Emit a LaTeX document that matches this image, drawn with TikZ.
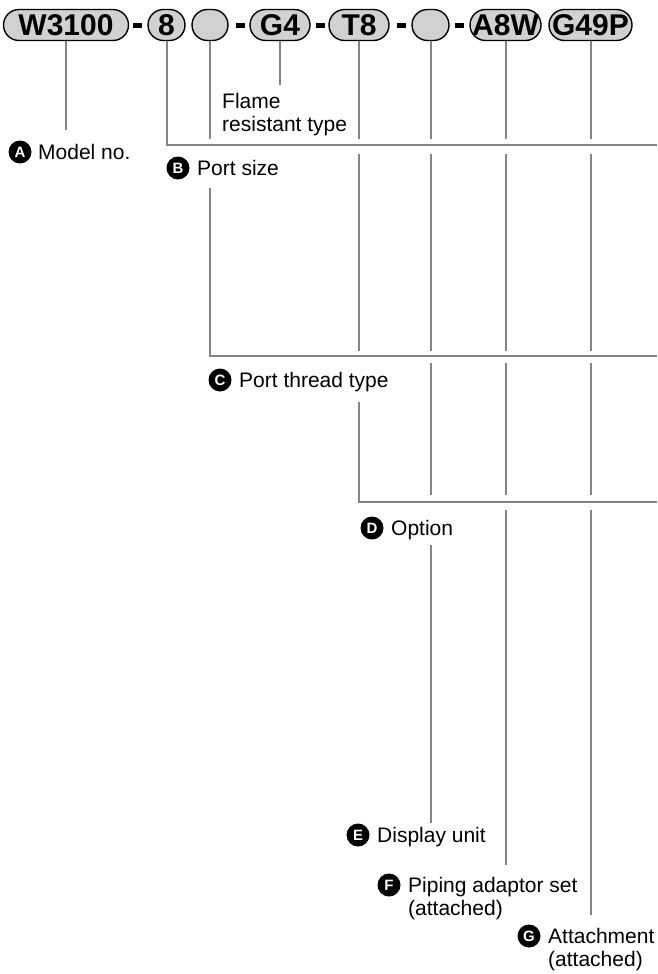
\documentclass[tikz,border=0pt]{standalone}
\usepackage{fontspec}
\setmainfont{Liberation Sans}
\definecolor{pillgray}{gray}{0.82}
\definecolor{linegray}{gray}{0.52}
\begin{document}
\begin{tikzpicture}[x=1pt,y=-1pt,
 pill/.style={draw=black, line width=1.4pt, fill=pillgray, rounded corners=15.5pt, minimum height=31pt, inner sep=0pt, font=\fontsize{30}{30}\selectfont\bfseries, text=black},
 dashbar/.style={fill=black, minimum width=9pt, minimum height=5.5pt, inner sep=0pt},
 conn/.style={draw=linegray, line width=2pt},
 icon/.style={circle, fill=black, text=white, minimum size=23pt, inner sep=0pt, font=\fontsize{15}{15}\selectfont\bfseries},
 lbl/.style={inner sep=0pt, font=\fontsize{21}{23.5}\selectfont, align=left, anchor=north west}]
\useasboundingbox (0,0) rectangle (657,974);
% pills
\node[pill, minimum width=125pt] (pW) at (66,25) {W3100};
\node[dashbar] (d1) at (137.5,25.5) {};
\node[pill, minimum width=37pt] (p8) at (166.5,25) {8};
\node[pill, minimum width=36pt] (pb1) at (210,25) {};
\node[dashbar] (d2) at (240,25.5) {};
\node[pill, minimum width=60pt] (pG4) at (280,25) {G4};
\node[dashbar] (d3) at (320,25.5) {};
\node[pill, minimum width=60pt] (pT8) at (359,25) {T8};
\node[dashbar] (d4) at (401,25.5) {};
\node[pill, minimum width=37pt] (pb2) at (430.5,25) {};
\node[dashbar] (d5) at (459.5,25.5) {};
\node[pill, minimum width=71pt] (pA8W) at (505.5,25) {A8W};
\node[pill, minimum width=83pt] (pG49P) at (590.5,25) {G49P};
% levels
\coordinate (endA) at (0,130);
\coordinate (endG4) at (0,85);
\coordinate (lvBa) at (0,139);
\coordinate (lvBb) at (0,154);
\coordinate (resB1) at (0,188);
\coordinate (lvCa) at (0,351);
\coordinate (lvCb) at (0,363);
\coordinate (resT8) at (0,402);
\coordinate (lvDa) at (0,495);
\coordinate (lvDb) at (0,510);
\coordinate (resE) at (0,545);
\coordinate (endE) at (0,823);
\coordinate (endF) at (0,865);
\coordinate (endG) at (0,915);
\coordinate (rB) at (657,145);
\coordinate (rC) at (657,356);
\coordinate (rD) at (657,502);
% connectors
\draw[conn] (pW.south) -- (pW.south |- endA);
\draw[conn] (p8.south) |- (rB);
\draw[conn] (pb1.south) -- (pb1.south |- lvBa);
\draw[conn] (pb1.south |- resB1) |- (rC);
\draw[conn] (pG4.south) -- (pG4.south |- endG4);
\draw[conn] (pT8.south) -- (pT8.south |- lvBa);
\draw[conn] (pT8.south |- lvBb) -- (pT8.south |- lvCa);
\draw[conn] (pT8.south |- resT8) |- (rD);
\draw[conn] (pb2.south) -- (pb2.south |- lvBa);
\draw[conn] (pb2.south |- lvBb) -- (pb2.south |- lvCa);
\draw[conn] (pb2.south |- lvCb) -- (pb2.south |- lvDa);
\draw[conn] (pb2.south |- resE) -- (pb2.south |- endE);
\draw[conn] (pA8W.south) -- (pA8W.south |- lvBa);
\draw[conn] (pA8W.south |- lvBb) -- (pA8W.south |- lvCa);
\draw[conn] (pA8W.south |- lvCb) -- (pA8W.south |- lvDa);
\draw[conn] (pA8W.south |- lvDb) -- (pA8W.south |- endF);
\draw[conn] (pG49P.south) -- (pG49P.south |- lvBa);
\draw[conn] (pG49P.south |- lvBb) -- (pG49P.south |- lvCa);
\draw[conn] (pG49P.south |- lvCb) -- (pG49P.south |- lvDa);
\draw[conn] (pG49P.south |- lvDb) -- (pG49P.south |- endG);
% labels
\node[lbl] (tFl) at (222,93) {Flame\\resistant type};
\node[icon] (iA) at (20,152) {A};
\node[lbl] (tA) at (38,144) {Model no.};
\node[icon] (iB) at (178,168) {B};
\node[lbl] (tB) at (197,160) {Port size};
\node[icon] (iC) at (220,380) {C};
\node[lbl] (tC) at (239,372) {Port thread type};
\node[icon] (iD) at (372,528) {D};
\node[lbl] (tD) at (391,520) {Option};
\node[icon] (iE) at (358,835) {E};
\node[lbl] (tE) at (377,827) {Display unit};
\node[icon] (iF) at (389,885) {F};
\node[lbl] (tF) at (408,877) {Piping adaptor set\\(attached)};
\node[icon] (iG) at (529,936) {G};
\node[lbl] (tG) at (548,928) {Attachment\\(attached)};
\end{tikzpicture}
\end{document}
